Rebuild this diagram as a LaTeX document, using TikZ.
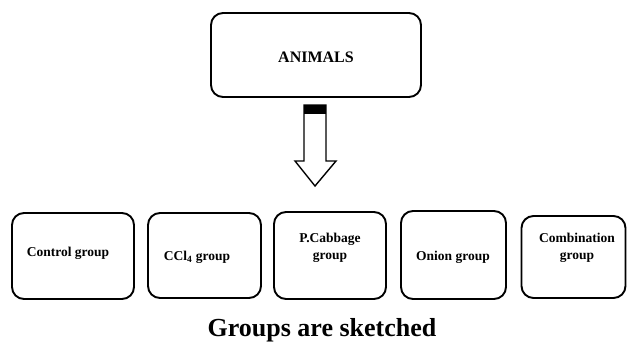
\documentclass[tikz,border=0pt]{standalone}
\usepackage{fontspec}
\setmainfont{Liberation Serif}
\begin{document}
\begin{tikzpicture}[x=1pt,y=-1pt,
  box/.style={draw, line width=1.9pt, rounded corners=12pt, inner sep=0pt},
  lbl/.style={font=\fontsize{13.5}{17}\selectfont\bfseries, align=center, inner sep=0pt, anchor=base},
  arrowshape/.style={draw, line width=1.4pt, fill=white, line join=miter}]
\useasboundingbox (0,0) rectangle (628,343);
% top box
\node[box, minimum width=210pt, minimum height=84pt] (animals) at (316,55) {};
\node[lbl, font=\fontsize{16}{18}\selectfont\bfseries] (animalsT) at (316,62) {ANIMALS};
% bottom boxes
\node[box, minimum width=122pt, minimum height=86pt] (b1) at (73,256) {};
\node[box, minimum width=113pt, minimum height=85pt] (b2) at (204.5,255.5) {};
\node[box, minimum width=112pt, minimum height=87pt] (b3) at (330,255.5) {};
\node[box, minimum width=105pt, minimum height=88pt] (b4) at (453.5,255) {};
\node[box, minimum width=104pt, minimum height=82pt] (b5) at (573.5,257) {};
% labels
\node[lbl] (t1) at (68,256) {Control group};
\node[lbl] (t2) at (197,260) {CCl\textsubscript{4} group};
\node[lbl] (t3) at (330,259) {P.Cabbage\\group};
\node[lbl] (t4) at (453,260) {Onion group};
\node[lbl] (t5) at (577,259) {Combination\\group};
% block arrow
\path[arrowshape] (304,105) -- (326,105) -- (326,161) -- (336,161) -- (315,186) -- (295,161) -- (304,161) -- cycle;
\fill (304,105) rectangle (326,114);
% caption
\node[anchor=base, inner sep=0pt, font=\fontsize{26}{30}\selectfont\bfseries] (cap) at (322,336.5) {Groups are sketched};
\end{tikzpicture}
\end{document}
